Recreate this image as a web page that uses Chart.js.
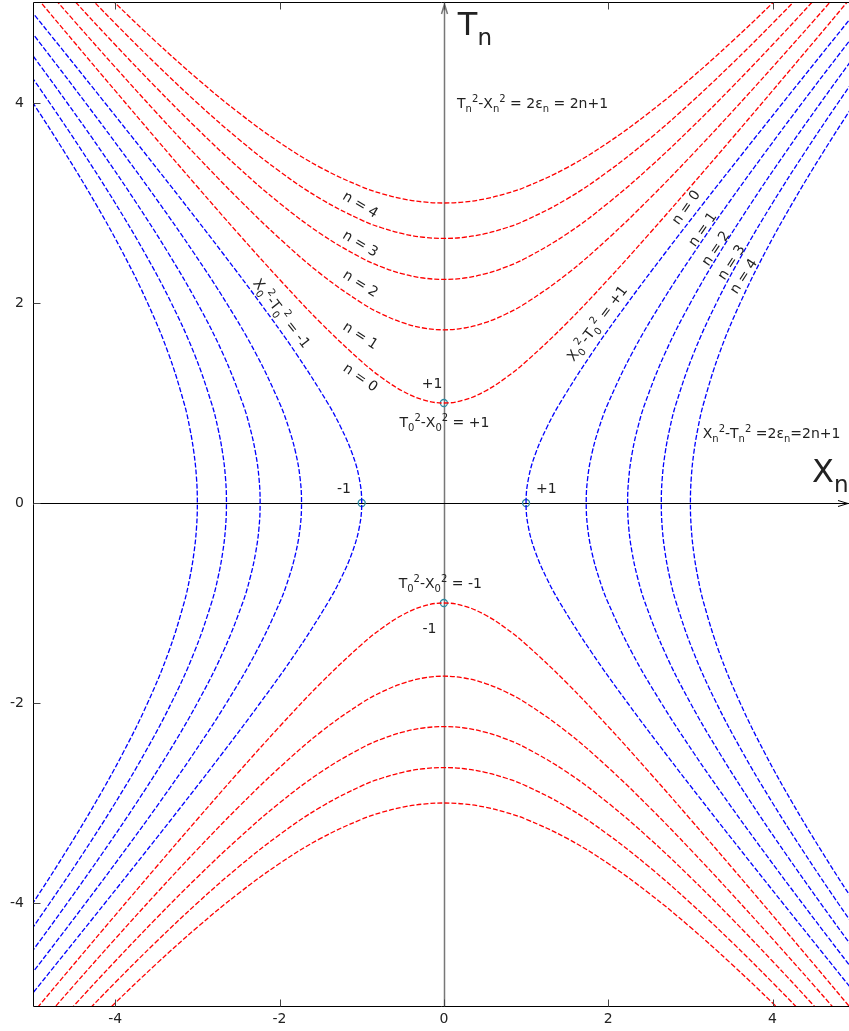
<!DOCTYPE html>
<html>
<head>
<meta charset="utf-8">
<script src="https://cdn.jsdelivr.net/npm/chart.js@4/dist/chart.umd.min.js"></script>
<style>
  html, body { margin: 0; padding: 0; background: #fff; }
  #wrap { width: 849px; height: 1031px; }
</style>
</head>
<body>
<div id="wrap"><canvas id="hyper" width="849" height="1031"></canvas></div>
<script>
// distance from the symmetry axis, and the curve value there for 2n+1 = 1,3,5,7,9
const halfAxis = [0, 0.25, 0.5, 0.75, 1, 1.5, 2, 2.5, 3, 3.5, 4, 4.5, 5];
const level0 = [1, 1.0308, 1.118, 1.25, 1.4142, 1.8028, 2.2361, 2.6926, 3.1623, 3.6401, 4.1231, 4.6098, 5.099];
const level1 = [1.7321, 1.75, 1.8028, 1.8875, 2, 2.2913, 2.6458, 3.0414, 3.4641, 3.9051, 4.3589, 4.8218, 5.2915];
const level2 = [2.2361, 2.25, 2.2913, 2.3585, 2.4495, 2.6926, 3, 3.3541, 3.7417, 4.1533, 4.5826, 5.0249, 5.4772];
const level3 = [2.6458, 2.6575, 2.6926, 2.75, 2.8284, 3.0414, 3.3166, 3.6401, 4, 4.3875, 4.7958, 5.2202, 5.6569];
const level4 = [3, 3.0104, 3.0414, 3.0923, 3.1623, 3.3541, 3.6056, 3.9051, 4.2426, 4.6098, 5, 5.4083, 5.831];
const levels = [level0, level1, level2, level3, level4];

const tickValues = [-4, -2, 0, 2, 4];
const unitPoints = [{ x: 0, y: 1 }, { x: -1, y: 0 }, { x: 1, y: 0 }, { x: 0, y: -1 }];

// text labels: [text, x, y, size, angle(deg), centred]
const labels = [
  ['T_n^2-X_n^2 = 2ε_n = 2n+1', 0.16, 3.95, 14, 0, false],
  ['X_n^2-T_n^2 =2ε_n=2n+1', 3.15, 0.65, 14, 0, false],
  ['+1', -0.27, 1.15, 14, 0, false],
  ['T_0^2-X_0^2 = +1', -0.54, 0.76, 14, 0, false],
  ['-1', -1.3, 0.1, 14, 0, false],
  ['+1', 1.12, 0.1, 14, 0, false],
  ['T_0^2-X_0^2 = -1', -0.55, -0.85, 14, 0, false],
  ['-1', -0.26, -1.3, 14, 0, false],
  ['n = 4', -1.01, 2.99, 14, 31, true],
  ['n = 3', -1.01, 2.6, 14, 31, true],
  ['n = 2', -1.01, 2.2, 14, 32, true],
  ['n = 1', -1.01, 1.68, 14, 33, true],
  ['n = 0', -1.01, 1.26, 14, 35, true],
  ['n = 0', 2.94, 2.96, 14, -55, true],
  ['n = 1', 3.14, 2.74, 14, -55, true],
  ['n = 2', 3.3, 2.55, 14, -56, true],
  ['n = 3', 3.49, 2.41, 14, -57, true],
  ['n = 4', 3.64, 2.27, 14, -57, true],
  ['X_0^2-T_0^2 = +1', 1.86, 1.8, 14, -53, true],
  ['X_0^2-T_0^2 = -1', -1.97, 1.9, 14, 52, true],
  ['T_n', 0.17, 4.68, 32, 0, false],
  ['X_n', 4.48, 0.21, 32, 0, false]
];

function branch(vals, sign, swap) {
  const pts = [];
  for (let i = halfAxis.length - 1; i > 0; i--) pts.push([-halfAxis[i], vals[i]]);
  for (let i = 0; i < halfAxis.length; i++) pts.push([halfAxis[i], vals[i]]);
  return pts.map(([a, b]) => swap ? { x: sign * b, y: a } : { x: a, y: sign * b });
}

const curveStyle = (color, data) => ({
  data, showLine: true, borderColor: color, borderWidth: 1.3,
  borderDash: [5, 2], pointRadius: 0, tension: 0.4, fill: false
});

const datasets = [];
levels.forEach((v) => {
  datasets.push(curveStyle('#ff0000', branch(v, 1, false)));
  datasets.push(curveStyle('#ff0000', branch(v, -1, false)));
  datasets.push(curveStyle('#0000ff', branch(v, 1, true)));
  datasets.push(curveStyle('#0000ff', branch(v, -1, true)));
});
datasets.push({
  data: unitPoints, showLine: false, pointRadius: 3.5, pointBorderWidth: 1.3,
  pointBorderColor: '#2e8ba3', pointBackgroundColor: 'rgba(0,0,0,0)'
});

function parseRich(str) {
  const segs = [];
  for (let i = 0; i < str.length; i++) {
    const c = str[i];
    if ((c === '_' || c === '^') && i + 1 < str.length) { segs.push({ t: str[i + 1], k: c }); i++; }
    else segs.push({ t: str[i], k: '' });
  }
  return segs;
}

function drawRich(ctx, str, x, y, size, centred) {
  const segs = parseRich(str);
  const small = Math.round(size * 0.72);
  const fontOf = (k) => (k ? small : size) + 'px "DejaVu Sans"';
  let w = 0;
  segs.forEach((s) => { ctx.font = fontOf(s.k); s.w = ctx.measureText(s.t).width; w += s.w; });
  let cx = centred ? -w / 2 : 0;
  const base = centred ? size * 0.36 : 0;
  ctx.save();
  ctx.translate(x, y);
  ctx.textBaseline = 'alphabetic';
  ctx.textAlign = 'left';
  segs.forEach((s) => {
    ctx.font = fontOf(s.k);
    const dy = s.k === '_' ? size * 0.3 : s.k === '^' ? -size * 0.45 : 0;
    ctx.fillText(s.t, cx, base + dy);
    cx += s.w;
  });
  ctx.restore();
}

const axesPlugin = {
  id: 'axesPlugin',
  beforeDatasetsDraw(chart) {
    const { ctx, chartArea: a, scales: { x, y } } = chart;
    const x0 = Math.round(x.getPixelForValue(0)) + 0.5;
    const y0 = Math.round(y.getPixelForValue(0)) + 0.5;
    ctx.save();
    ctx.strokeStyle = '#777';
    ctx.lineWidth = 1.5;
    ctx.beginPath();
    ctx.moveTo(x0, a.bottom); ctx.lineTo(x0, a.top);
    ctx.moveTo(x0 - 3, a.top + 11); ctx.lineTo(x0, a.top + 1); ctx.lineTo(x0 + 3, a.top + 11);
    ctx.stroke();
    ctx.strokeStyle = '#000';
    ctx.lineWidth = 1;
    ctx.beginPath();
    ctx.moveTo(a.left, y0); ctx.lineTo(a.right, y0);
    ctx.moveTo(a.right - 11, y0 - 3); ctx.lineTo(a.right - 1, y0); ctx.lineTo(a.right - 11, y0 + 3);
    ctx.stroke();
    ctx.restore();
  },
  afterDatasetsDraw(chart) {
    const { ctx, chartArea: a, scales: { x, y } } = chart;
    ctx.save();
    // frame (right edge falls outside the picture)
    ctx.strokeStyle = '#000';
    ctx.lineWidth = 1;
    const L = Math.round(a.left) + 0.5, T = Math.round(a.top) - 0.5, B = Math.round(a.bottom) + 0.5;
    ctx.beginPath();
    ctx.moveTo(a.right, T); ctx.lineTo(L, T); ctx.lineTo(L, B); ctx.lineTo(a.right, B);
    ctx.stroke();
    ctx.strokeStyle = '#444';
    ctx.beginPath();
    tickValues.forEach((v) => {
      const px = Math.round(x.getPixelForValue(v)) + 0.5;
      const py = Math.round(y.getPixelForValue(v)) + 0.5;
      ctx.moveTo(px, T); ctx.lineTo(px, T + 7);
      ctx.moveTo(px, B); ctx.lineTo(px, B - 7);
      ctx.moveTo(L, py); ctx.lineTo(L + 7, py);
    });
    ctx.stroke();
    // x tick labels
    ctx.fillStyle = '#222';
    ctx.font = '14px "DejaVu Sans"';
    ctx.textAlign = 'center';
    ctx.textBaseline = 'top';
    tickValues.forEach((v) => { ctx.fillText(String(v), x.getPixelForValue(v), B + 6); });
    // annotations
    labels.forEach(([t, lx, ly, size, ang, centred]) => {
      const px = x.getPixelForValue(lx), py = y.getPixelForValue(ly);
      ctx.save();
      ctx.translate(px, py);
      ctx.rotate(ang * Math.PI / 180);
      drawRich(ctx, t, 0, 0, size, centred);
      ctx.restore();
    });
    ctx.restore();
  }
};

new Chart(document.getElementById('hyper'), {
  type: 'scatter',
  data: { datasets },
  options: {
    responsive: false,
    animation: false,
    devicePixelRatio: 1,
    layout: { autoPadding: false, padding: { top: 3, left: 0, right: 0, bottom: 0 } },
    plugins: { legend: { display: false }, tooltip: { enabled: false } },
    scales: {
      x: {
        type: 'linear', min: -5, max: 4.93,
        afterFit: (s) => { s.height = 25; s.paddingLeft = 0; s.paddingRight = 0; },
        afterBuildTicks: (s) => { s.ticks = tickValues.map((v) => ({ value: v })); },
        grid: { display: false, drawTicks: false },
        border: { display: false },
        ticks: { display: false }
      },
      y: {
        type: 'linear', min: -5.03, max: 5,
        afterFit: (s) => { s.width = 33; s.paddingTop = 0; s.paddingBottom = 0; },
        afterBuildTicks: (s) => { s.ticks = tickValues.map((v) => ({ value: v })); },
        grid: { display: false, drawTicks: false },
        border: { display: false },
        ticks: { padding: 9, color: '#222', font: { family: 'DejaVu Sans', size: 14 } }
      }
    }
  },
  plugins: [axesPlugin]
});
</script>
</body>
</html>
